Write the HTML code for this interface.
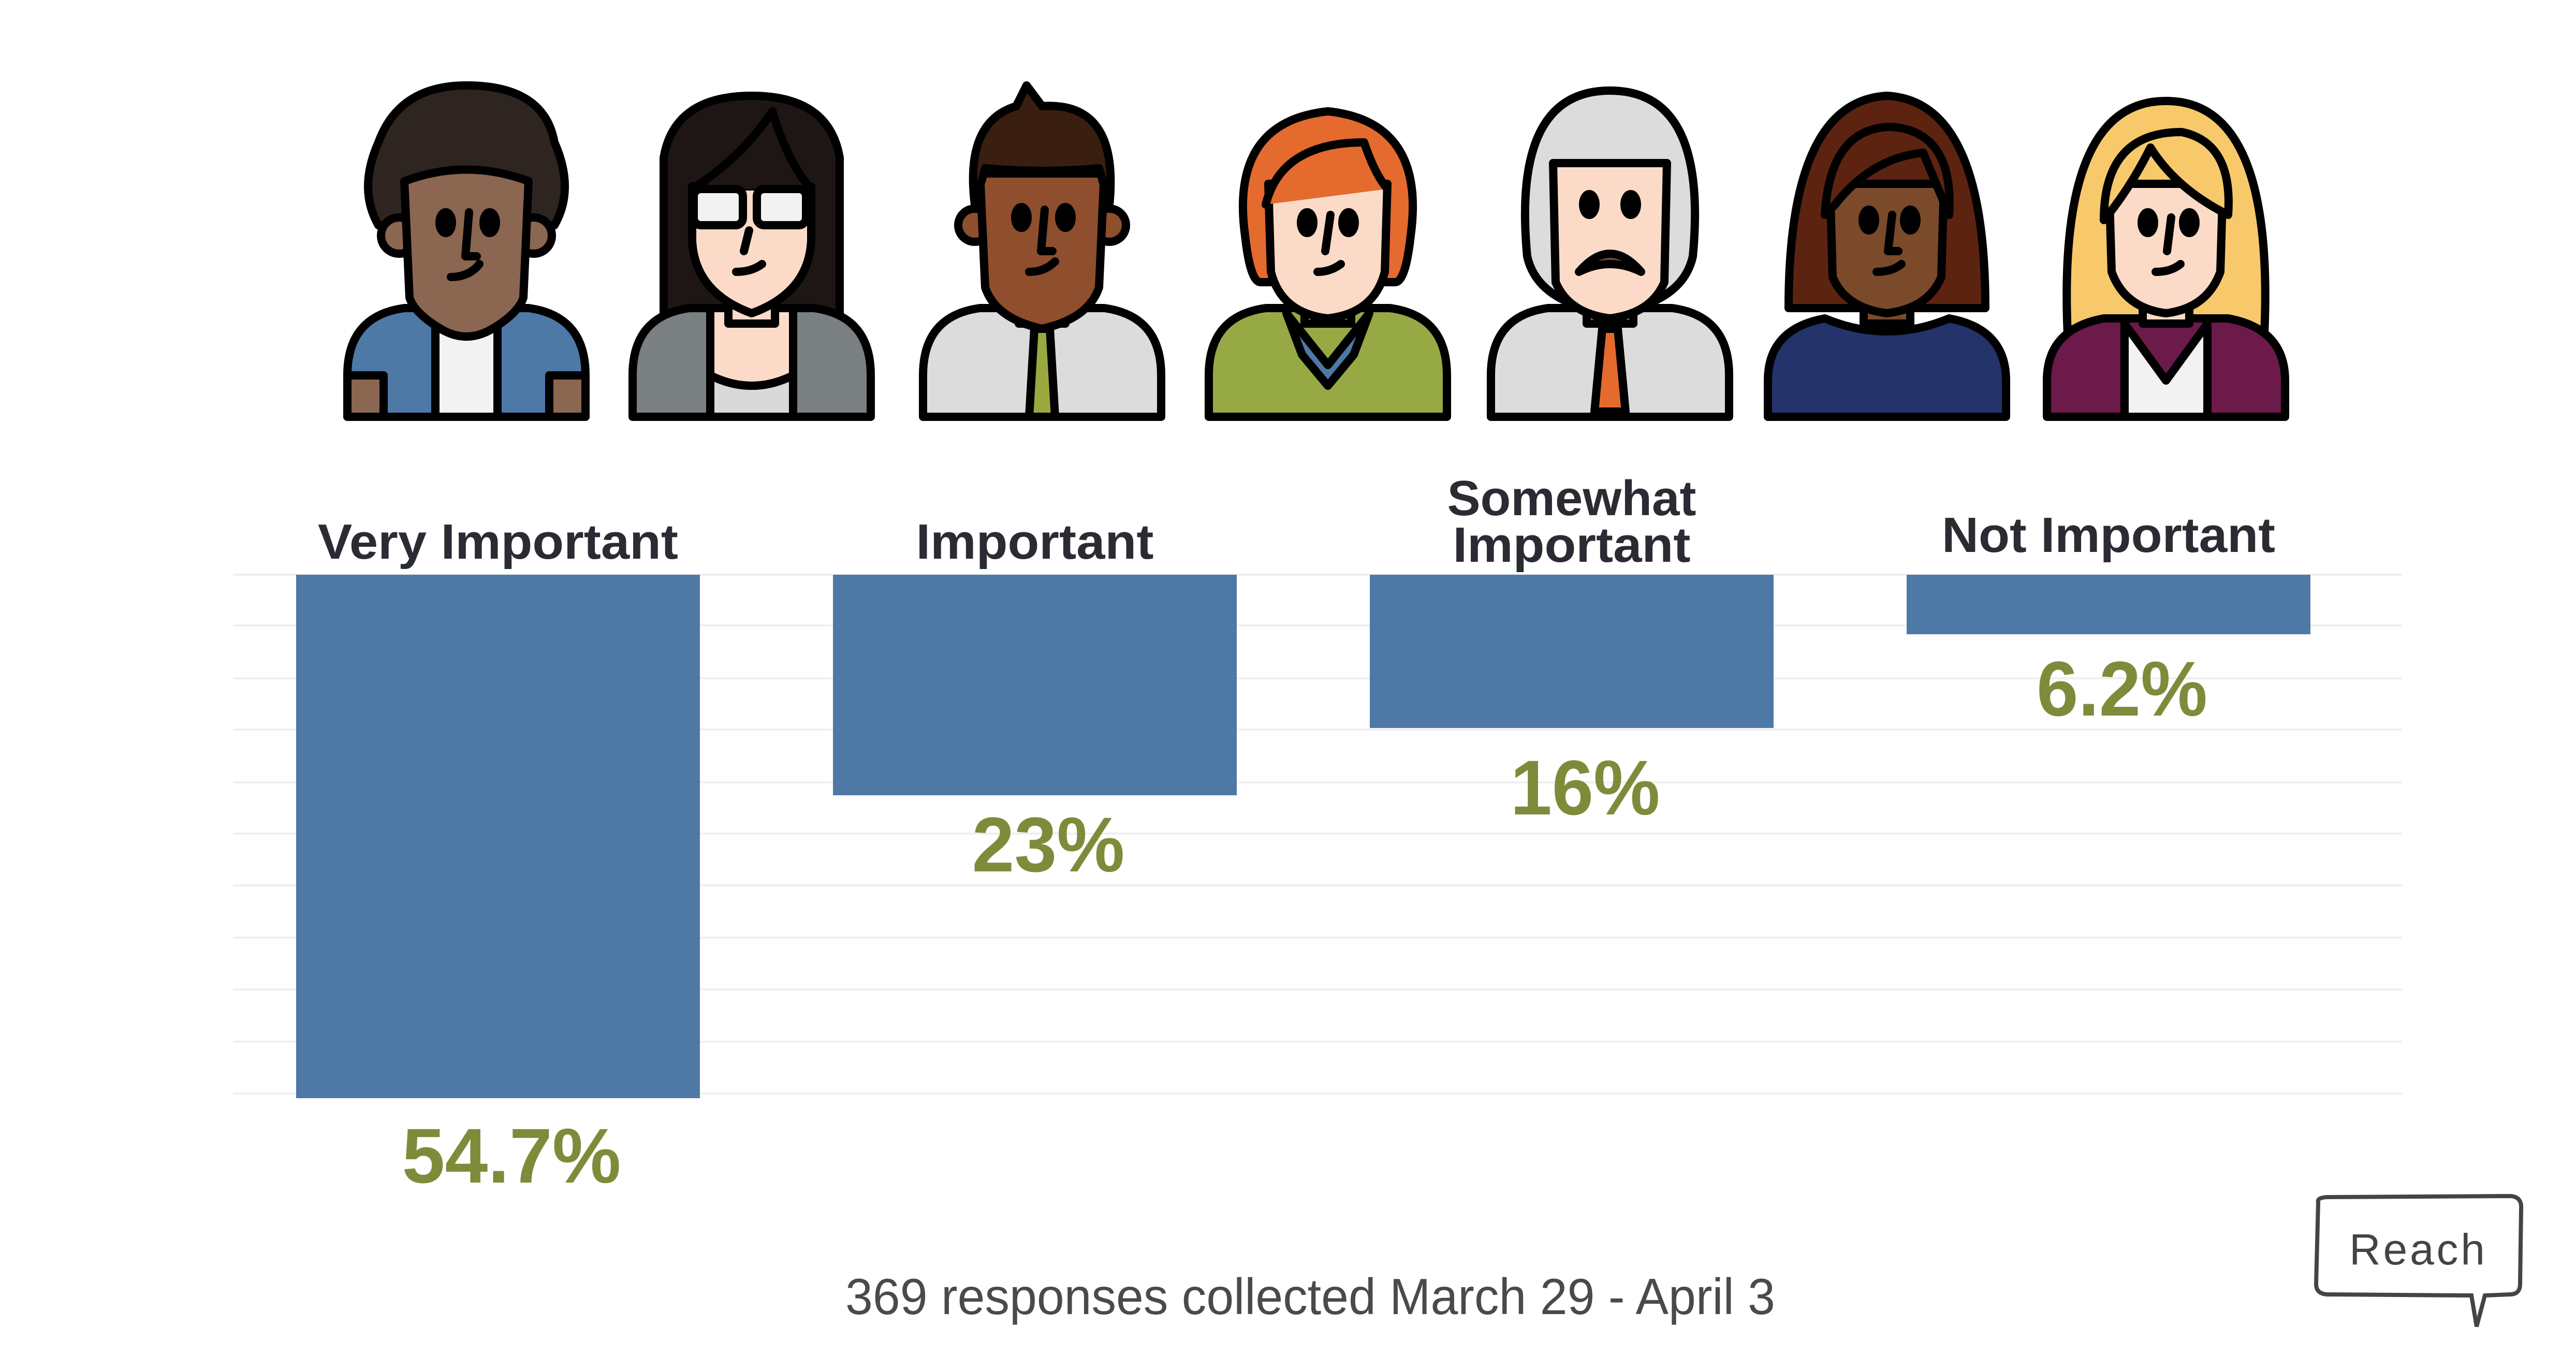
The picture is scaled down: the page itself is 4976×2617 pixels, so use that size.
<!DOCTYPE html>
<html><head><meta charset="utf-8"><style>
html,body{margin:0;padding:0;background:#fff;}
svg{display:block;}
</style></head><body>
<svg width="4976" height="2617" viewBox="0 0 4976 2617" xmlns="http://www.w3.org/2000/svg">
<rect width="4976" height="2617" fill="#fff"/>
<!-- gridlines -->
<g stroke="#efefef" stroke-width="4">
<line x1="450" y1="1110" x2="4640" y2="1110"/>
<line x1="450" y1="1208" x2="4640" y2="1208"/>
<line x1="450" y1="1310" x2="4640" y2="1310"/>
<line x1="450" y1="1409" x2="4640" y2="1409"/>
<line x1="450" y1="1511" x2="4640" y2="1511"/>
<line x1="450" y1="1610" x2="4640" y2="1610"/>
<line x1="450" y1="1710" x2="4640" y2="1710"/>
<line x1="450" y1="1811" x2="4640" y2="1811"/>
<line x1="450" y1="1911" x2="4640" y2="1911"/>
<line x1="450" y1="2012" x2="4640" y2="2012"/>
<line x1="450" y1="2112" x2="4640" y2="2112"/>
</g>
<!-- bars -->
<g fill="#4e79a7">
<rect x="572" y="1110" width="780" height="1011"/>
<rect x="1609" y="1110" width="780" height="426"/>
<rect x="2646" y="1110" width="780" height="296"/>
<rect x="3683" y="1110" width="780" height="115"/>
</g>
<!-- category labels -->
<g font-family="Liberation Sans, sans-serif" font-weight="bold" fill="#2b2b33" font-size="96" text-anchor="middle">
<text x="962" y="1079" textLength="696" lengthAdjust="spacingAndGlyphs">Very Important</text>
<text x="1999" y="1079" textLength="459" lengthAdjust="spacingAndGlyphs">Important</text>
<text x="3036" y="995" textLength="481" lengthAdjust="spacingAndGlyphs">Somewhat</text>
<text x="3036" y="1085" textLength="459" lengthAdjust="spacingAndGlyphs">Important</text>
<text x="4073" y="1066" textLength="644" lengthAdjust="spacingAndGlyphs">Not Important</text>
</g>
<!-- values -->
<g font-family="Liberation Sans, sans-serif" font-weight="bold" fill="#7d8c3a" font-size="150" text-anchor="middle">
<text x="988" y="2284" textLength="423" lengthAdjust="spacingAndGlyphs">54.7%</text>
<text x="2025" y="1683" textLength="295" lengthAdjust="spacingAndGlyphs">23%</text>
<text x="3062" y="1573" textLength="289" lengthAdjust="spacingAndGlyphs">16%</text>
<text x="4099" y="1382" textLength="330" lengthAdjust="spacingAndGlyphs">6.2%</text>
</g>
<!-- footer -->
<text x="1633" y="2538" font-family="Liberation Sans, sans-serif" font-size="98" fill="#4a4a4a" textLength="1796" lengthAdjust="spacingAndGlyphs">369 responses collected March 29 - April 3</text>
<!-- Reach bubble -->
<path d="M4478,2322 Q4475,2312 4500,2312 L4850,2310 Q4872,2312 4870,2335 L4868,2480 Q4868,2500 4848,2500 L4800,2502 L4784,2562 L4774,2502 L4498,2500 Q4474,2500 4474,2480 Z" fill="#fff" stroke="#444" stroke-width="8"/>
<text x="4669" y="2442" font-family="Liberation Sans, sans-serif" font-size="84" fill="#444" text-anchor="middle" textLength="262" lengthAdjust="spacing">Reach</text>

<!-- Avatars -->
<g stroke="#000" stroke-width="16" stroke-linejoin="round" stroke-linecap="round">
<g transform="translate(671,165)">
<path d="M0,640 V560 Q0,445 110,430 L350,430 Q460,445 460,560 V640 Z" fill="#4e79a7"/>
<rect x="170" y="430" width="120" height="210" fill="#f2f2f2"/>
<rect x="0" y="560" width="70" height="80" fill="#8b6651"/><rect x="390" y="560" width="70" height="80" fill="#8b6651"/>
<rect x="185" y="350" width="90" height="120" fill="#8b6651"/>
<path d="M60,110 Q100,0 230,0 Q380,0 400,110 Q440,200 400,270 L60,270 Q20,200 60,110Z" fill="#2f2520"/>
<circle cx="100" cy="290" r="35" fill="#8b6651"/><circle cx="360" cy="290" r="35" fill="#8b6651"/>
<path d="M110,185 Q230,140 350,185 L340,410 Q330,440 280,470 Q230,500 180,470 Q130,440 120,410 Z" fill="#8b6651"/>
<ellipse cx="190" cy="265" rx="12" ry="20" fill="#000"/><ellipse cx="275" cy="265" rx="12" ry="20" fill="#000"/>
<path d="M235,245 L228,330 L250,330 M200,370 Q235,370 255,345" fill="none"/>
</g>
<g transform="translate(1222,165)">
<path d="M60,580 L60,140 Q80,20 230,20 Q380,20 400,140 L400,580 Z" fill="#1e1614"/>
<path d="M0,640 V560 Q0,445 110,430 L350,430 Q460,445 460,560 V640 Z" fill="#7a7f82"/>
<path d="M150,430 H310 V640 H150 Z" fill="#fbdbc8"/>
<path d="M150,560 Q230,600 310,560 V640 H150 Z" fill="#d9d9d9"/>
<rect x="185" y="350" width="90" height="110" fill="#fbdbc8"/>
<path d="M115,195 L345,195 L345,300 Q340,400 230,440 Q120,400 115,300 Z" fill="#fbdbc8"/>
<path d="M115,200 Q210,140 270,50 Q300,150 345,200" fill="#1e1614"/>
<rect x="118" y="200" width="95" height="70" rx="14" fill="#f2f2f2"/><rect x="240" y="200" width="95" height="70" rx="14" fill="#f2f2f2"/>
<path d="M225,280 L215,320 M200,360 Q230,360 250,345" fill="none"/>
</g>
<g transform="translate(1783,165)">
<path d="M0,640 V560 Q0,445 110,430 L350,430 Q460,445 460,560 V640 Z" fill="#dcdcdc"/>
<path d="M215,470 L245,470 L255,640 L205,640 Z" fill="#9aa83f"/>
<rect x="185" y="350" width="90" height="110" fill="#8f4e2e"/>
<circle cx="100" cy="270" r="32" fill="#8f4e2e"/><circle cx="360" cy="270" r="32" fill="#8f4e2e"/>
<path d="M110,170 L350,170 L340,390 Q320,450 230,470 Q140,450 120,390 Z" fill="#8f4e2e"/>
<path d="M100,230 Q80,70 180,40 L200,0 L230,40 Q380,30 360,230 L340,160 Q230,170 120,160 Z" fill="#3a1e10"/>
<ellipse cx="190" cy="255" rx="12" ry="20" fill="#000"/><ellipse cx="275" cy="255" rx="12" ry="20" fill="#000"/>
<path d="M235,240 L228,320 L250,320 M205,360 Q235,360 255,340" fill="none"/>
</g>
<g transform="translate(2335,165)">
<path d="M0,640 V560 Q0,445 110,430 L350,430 Q460,445 460,560 V640 Z" fill="#96a945"/>
<path d="M150,440 L230,540 L310,440 L280,520 L230,580 L180,520 Z" fill="#4e79a7"/>
<rect x="185" y="350" width="90" height="110" fill="#fbdbc8"/>
<path d="M70,290 Q40,70 230,50 Q420,70 390,290 Q380,380 360,380 L100,380 Q80,380 70,290Z" fill="#e46a2e"/>
<path d="M115,190 L345,190 L340,360 Q320,440 230,450 Q140,440 120,360 Z" fill="#fbdbc8"/>
<path d="M110,230 Q140,110 300,110 Q320,170 345,200" fill="#e46a2e"/>
<ellipse cx="190" cy="265" rx="12" ry="20" fill="#000"/><ellipse cx="270" cy="265" rx="12" ry="20" fill="#000"/>
<path d="M235,250 L225,320 M210,360 Q235,360 255,345" fill="none"/>
</g>
<g transform="translate(2880,165)">
<path d="M0,640 V560 Q0,445 110,430 L350,430 Q460,445 460,560 V640 Z" fill="#dcdcdc"/>
<path d="M215,470 L245,470 L260,630 L200,630 Z" fill="#e46a2e"/>
<rect x="185" y="350" width="90" height="110" fill="#fbdbc8"/>
<path d="M70,330 Q40,10 230,10 Q420,10 390,330 Q370,420 230,440 Q90,420 70,330Z" fill="#dcdcdc"/>
<path d="M120,150 L340,150 L335,380 Q310,440 230,450 Q150,440 125,380 Z" fill="#fbdbc8"/>
<ellipse cx="190" cy="230" rx="12" ry="20" fill="#000"/><ellipse cx="270" cy="230" rx="12" ry="20" fill="#000"/>
<path d="M170,360 Q230,290 290,360 Q230,330 170,360Z" fill="#6b4a3a"/>
</g>
<g transform="translate(3415,165)">
<path d="M40,430 Q40,30 230,20 Q420,30 420,430 Z" fill="#5c2410"/>
<path d="M0,640 V570 Q0,470 110,450 Q230,500 350,450 Q460,470 460,570 V640 Z" fill="#24336a"/>
<rect x="185" y="350" width="90" height="110" fill="#7a4a2a"/>
<path d="M120,190 L340,190 L335,370 Q310,430 230,440 Q150,430 125,370 Z" fill="#7a4a2a"/>
<path d="M110,250 Q120,80 240,80 Q360,90 350,250 L300,130 Q200,140 130,230 Z" fill="#5c2410"/>
<ellipse cx="195" cy="260" rx="12" ry="20" fill="#000"/><ellipse cx="275" cy="260" rx="12" ry="20" fill="#000"/>
<path d="M240,250 L232,320 L252,320 M210,360 Q240,360 258,345" fill="none"/>
</g>
<g transform="translate(3954,165)">
<path d="M40,480 Q20,30 230,30 Q440,30 420,480 Z" fill="#f7c96a"/>
<path d="M0,640 V570 Q0,470 110,450 L350,450 Q460,470 460,570 V640 Z" fill="#6b1a4a"/>
<path d="M150,460 L230,570 L310,460 L310,640 L150,640 Z" fill="#f2f2f2"/>
<rect x="185" y="350" width="90" height="110" fill="#fbdbc8"/>
<path d="M120,190 L340,190 L335,360 Q310,430 230,440 Q150,430 125,360 Z" fill="#fbdbc8"/>
<path d="M110,260 Q110,90 260,90 Q360,110 350,250 Q250,200 200,120 Q160,200 110,260Z" fill="#f7c96a"/>
<ellipse cx="195" cy="265" rx="12" ry="20" fill="#000"/><ellipse cx="275" cy="265" rx="12" ry="20" fill="#000"/>
<path d="M240,255 L232,320 M210,360 Q240,360 258,345" fill="none"/>
</g>
</g>
</svg>
</body></html>
